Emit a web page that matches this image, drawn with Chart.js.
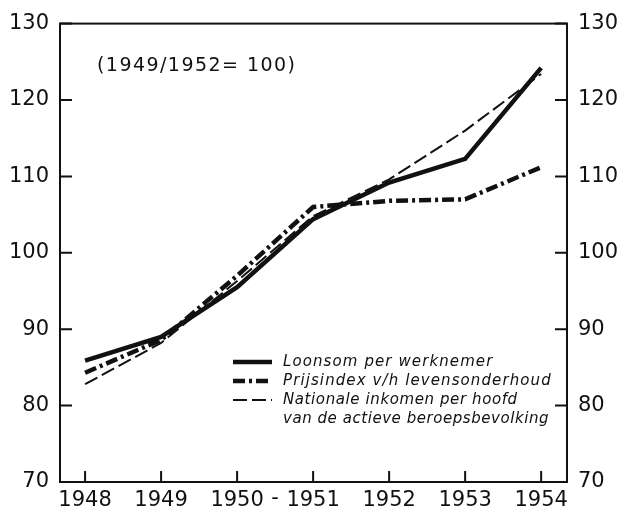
<!DOCTYPE html>
<html>
<head>
<meta charset="utf-8">
<script src="https://cdn.jsdelivr.net/npm/chart.js@4"></script>
<style>
  html, body { margin: 0; padding: 0; background: #fff; }
  #wrap { width: 627px; height: 516px; }
</style>
</head>
<body>
<div id="wrap"><canvas id="chart" width="627" height="516"></canvas></div>
<script>
// ---------- data ----------
const years = [1948, 1949, 1950, 1951, 1952, 1953, 1954];
const yearLabels = ["1948", "1949", "1950", "1951", "1952", "1953", "1954"];

const loonsom   = [85.9, 89.0, 95.5, 104.4, 109.2, 112.3, 124.2];
const prijs     = [84.3, 88.6, 97.0, 106.0, 106.8, 107.0, 111.2];
const nationaal = [82.8, 88.2, 96.3, 104.8, 109.6, 116.0, 123.4];

const seriesNames = [
  "Loonsom per werknemer",
  "Prijsindex v/h levensonderhoud",
  "Nationale inkomen per hoofd",
  "van de actieve beroepsbevolking"
];
const note = "(1949/1952= 100)";
const yTicks = [70, 80, 90, 100, 110, 120, 130];

const ink = "#111";
const tickFont = { family: "DejaVu Sans", size: 21 };

function pts(vals) {
  return vals.map((v, i) => ({ x: years[i], y: v }));
}

// frame, inward tick marks, "-" between 1950 and 1951, note and legend
const decor = {
  id: "decor",
  afterDraw(chart) {
    const ctx = chart.ctx;
    const a = chart.chartArea;
    const sx = chart.scales.x, sy = chart.scales.y;
    ctx.save();
    ctx.strokeStyle = ink;
    ctx.lineWidth = 2;
    ctx.strokeRect(a.left, a.top, a.right - a.left, a.bottom - a.top);

    ctx.beginPath();
    yTicks.forEach(v => {
      const py = sy.getPixelForValue(v);
      ctx.moveTo(a.left, py); ctx.lineTo(a.left + 12, py);
      ctx.moveTo(a.right, py); ctx.lineTo(a.right - 12, py);
    });
    years.forEach(v => {
      const px = sx.getPixelForValue(v);
      ctx.moveTo(px, a.bottom); ctx.lineTo(px, a.bottom - 11);
    });
    ctx.stroke();

    ctx.fillStyle = ink;
    ctx.font = "21px 'DejaVu Sans'";
    ctx.textAlign = "center";
    ctx.textBaseline = "top";
    ctx.fillText("-", sx.getPixelForValue(1950.5), a.bottom + 6);

    ctx.textAlign = "left";
    ctx.textBaseline = "middle";
    ctx.font = "19px 'DejaVu Sans'";
    ctx.letterSpacing = "1.45px";
    ctx.fillText(note, 97, 66);

    // legend
    const lx0 = 233, lx1 = 272, tx = 283;
    const rows = [362, 381, 400, 419];
    const spacing = ["1.1px", "1.1px", "0.6px", "0.55px"];
    const styles = [
      { w: 4.5, dash: [] },
      { w: 4.5, dash: [12, 4, 3, 4] },
      { w: 2, dash: [14, 5] }
    ];
    styles.forEach((s, i) => {
      ctx.beginPath();
      ctx.lineWidth = s.w;
      ctx.setLineDash(s.dash);
      ctx.moveTo(lx0, rows[i]); ctx.lineTo(lx1, rows[i]);
      ctx.stroke();
    });
    ctx.setLineDash([]);
    ctx.font = "italic 15px 'DejaVu Sans'";
    seriesNames.forEach((t, i) => {
      ctx.letterSpacing = spacing[i];
      ctx.fillText(t, tx, rows[i]);
    });
    ctx.letterSpacing = "0px";
    ctx.restore();
  }
};

const yAxis = (pos) => ({
  position: pos,
  min: 70,
  max: 130,
  afterBuildTicks: s => { s.ticks = yTicks.map(v => ({ value: v })); },
  afterFit: s => { s.width = 60; },
  grid: { display: false, drawTicks: false },
  border: { display: false },
  ticks: { color: ink, font: tickFont, padding: 11 }
});

new Chart(document.getElementById("chart"), {
  type: "line",
  data: {
    datasets: [
      {
        label: seriesNames[0],
        data: pts(loonsom),
        borderColor: ink,
        borderWidth: 4.5,
        pointRadius: 0,
        tension: 0
      },
      {
        label: seriesNames[1],
        data: pts(prijs),
        borderColor: ink,
        borderWidth: 4.5,
        borderDash: [12, 4, 3, 4],
        pointRadius: 0,
        tension: 0
      },
      {
        label: seriesNames[2],
        data: pts(nationaal),
        borderColor: ink,
        borderWidth: 2,
        borderDash: [14, 5],
        pointRadius: 0,
        tension: 0
      }
    ]
  },
  options: {
    animation: false,
    responsive: false,
    layout: { padding: { top: 19, left: 0, right: 0, bottom: 0 } },
    plugins: { legend: { display: false }, tooltip: { enabled: false } },
    scales: {
      x: {
        type: "linear",
        min: 1947.67,
        max: 1954.34,
        afterBuildTicks: s => { s.ticks = years.map(v => ({ value: v })); },
        afterFit: s => { s.height = 34; },
        grid: { display: false, drawTicks: false },
        border: { display: false },
        ticks: {
          color: ink,
          font: tickFont,
          padding: 6,
          maxRotation: 0,
          autoSkip: false,
          callback: v => yearLabels[years.indexOf(v)]
        }
      },
      y: yAxis("left"),
      y2: yAxis("right")
    }
  },
  plugins: [decor]
});
</script>
</body>
</html>
